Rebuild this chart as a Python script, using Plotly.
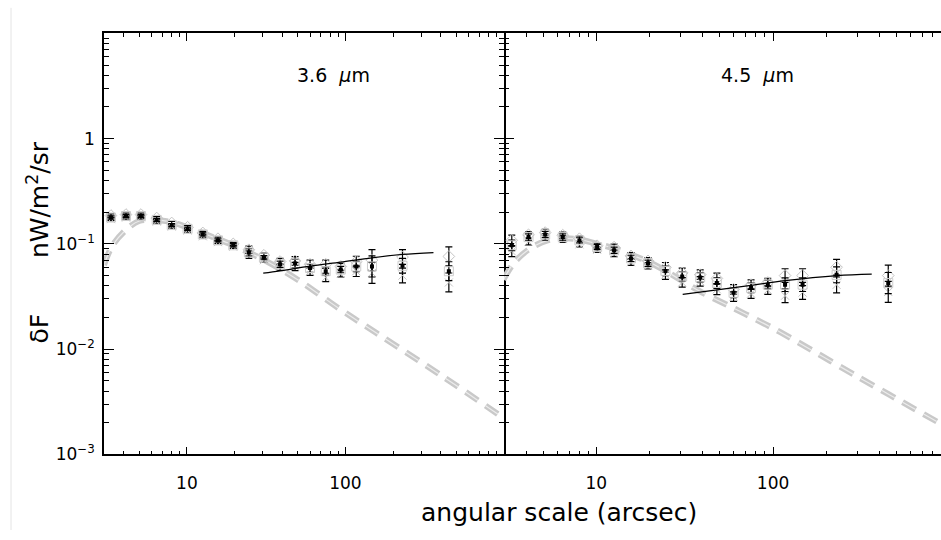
import math
import plotly.graph_objects as go

# ---- data ----
theta = [3.32, 4.13, 5.13, 6.45, 8.02, 10.1, 12.6, 15.7, 19.6, 24.6, 30.6, 38.7, 48.1,
         59.8, 75.1, 93.4, 117, 147, 229, 449]

# 3.6 micron: three overlapping fields
a36 = [0.178, 0.184, 0.184, 0.169, 0.151, 0.139, 0.123, 0.108, 0.097, 0.083, 0.074, 0.064, 0.065,
       0.059, 0.055, 0.057, 0.061, 0.061, 0.062, 0.055]
b36 = [0.186, 0.190, 0.190, 0.176, 0.158, 0.144, 0.127, 0.112, 0.100, 0.088, 0.078, 0.068, 0.069,
       0.064, 0.064, 0.061, 0.068, 0.070, 0.075, 0.076]
c36 = [0.172, 0.178, 0.179, 0.163, 0.146, 0.134, 0.118, 0.104, 0.094, 0.079, 0.070, 0.060, 0.061,
       0.055, 0.048, 0.052, 0.055, 0.053, 0.050, 0.043]
dex36 = [0.015, 0.015, 0.015, 0.015, 0.015, 0.015, 0.015, 0.015, 0.015, 0.035, 0.02, 0.03, 0.04,
         0.04, 0.04, 0.03, 0.05, 0.10, 0.07, 0.09]

# 4.5 micron
a45 = [0.097, 0.116, 0.123, 0.116, 0.108, 0.0933, 0.0869, 0.0728, 0.0654, 0.0554, 0.049, 0.048,
       0.0425, 0.0343, 0.0382, 0.041, 0.041, 0.041, 0.0508, 0.0425]
b45 = [0.108, 0.122, 0.128, 0.121, 0.112, 0.096, 0.093, 0.077, 0.069, 0.060, 0.053, 0.051,
       0.047, 0.037, 0.041, 0.043, 0.050, 0.050, 0.060, 0.050]
c45 = [0.085, 0.105, 0.116, 0.111, 0.099, 0.088, 0.081, 0.067, 0.062, 0.051, 0.043, 0.044,
       0.037, 0.0315, 0.0337, 0.0364, 0.0322, 0.0345, 0.0408, 0.035]
dex45 = [0.05, 0.03, 0.03, 0.03, 0.025, 0.025, 0.03, 0.03, 0.03, 0.045, 0.045, 0.045, 0.05,
         0.045, 0.045, 0.04, 0.065, 0.065, 0.075, 0.10]

# solid fit lines
fit36_x = [30.3, 38.7, 59.8, 93.4, 147, 229, 359]
fit36_y = [0.0527, 0.0555, 0.0615, 0.0672, 0.0738, 0.0794, 0.0828]
fit45_x = [30.8, 48.2, 75.0, 117, 230, 362]
fit45_y = [0.0331, 0.0366, 0.0404, 0.0448, 0.0500, 0.0516]

# grey dashed model curves
mod36_x = [3.0, 3.4, 4.2, 5.0, 6.3, 8.0, 10, 12.6, 15.7, 19.6, 30.3, 50, 92, 156, 400, 1000]
mod36_y = [0.063, 0.097, 0.139, 0.165, 0.169, 0.161, 0.144, 0.127, 0.111, 0.097, 0.071, 0.0457,
           0.0241, 0.0143, 0.00566, 0.0022]
mod45_x = [2.98, 3.4, 4.2, 5.3, 6.6, 8.1, 10.1, 12.8, 15.9, 19.8, 25, 38.4, 59.6, 92, 110, 300, 893, 1000]
mod45_y = [0.0457, 0.0654, 0.090, 0.108, 0.113, 0.110, 0.100, 0.090, 0.0782, 0.0676, 0.0546,
           0.0356, 0.0246, 0.0170, 0.0145, 0.0055, 0.00195, 0.00175]

y_tickvals = [0.001, 0.01, 0.1, 1, 10]
y_ticktext = ["10<sup>\u22123</sup>", "10<sup>\u22122</sup>", "10<sup>\u22121</sup>", "1", ""]
x_tickvals = [10, 100, 1000]
x_ticktext = ["10", "100", ""]

W, H = 941, 540
FONT = "DejaVu Sans, Liberation Sans, sans-serif"

def px(x):
    return x / W

def py(y):
    return 1 - y / H

fig = go.Figure()

def err(vals, dex):
    plus = [v * (10 ** d - 1) for v, d in zip(vals, dex)]
    minus = [v * (1 - 10 ** (-d)) for v, d in zip(vals, dex)]
    return dict(type="data", array=plus, arrayminus=minus, visible=True,
                color="black", thickness=1.2, width=3.5)

def add_panel(xa, ya, a, b, c, dex, mx, my, fx, fy):
    # grey dashed model (double-stripe look)
    fig.add_trace(go.Scatter(x=mx, y=my, mode="lines", xaxis=xa, yaxis=ya,
                             line=dict(color="#c9c9c9", width=6, dash="15px,9px", shape="spline"),
                             hoverinfo="skip", showlegend=False))
    fig.add_trace(go.Scatter(x=mx, y=my, mode="lines", xaxis=xa, yaxis=ya,
                             line=dict(color="#ececec", width=1.2, dash="15px,9px", shape="spline"),
                             hoverinfo="skip", showlegend=False))
    # data sets
    fig.add_trace(go.Scatter(x=theta, y=b, mode="markers", xaxis=xa, yaxis=ya,
                             marker=dict(symbol="diamond-open", size=9, color="#c4c4c4",
                                         line=dict(width=1, color="#c4c4c4")),
                             error_y=err(b, dex), showlegend=False))
    fig.add_trace(go.Scatter(x=theta, y=c, mode="markers", xaxis=xa, yaxis=ya,
                             marker=dict(symbol="x-thin-open", size=8, color="#c4c4c4",
                                         line=dict(width=1, color="#c4c4c4")),
                             error_y=err(c, dex), showlegend=False))
    fig.add_trace(go.Scatter(x=theta, y=a, mode="markers", xaxis=xa, yaxis=ya,
                             marker=dict(symbol="square-open", size=9, color="#cccccc",
                                         line=dict(width=1, color="#cccccc")),
                             error_y=err(a, dex), showlegend=False))
    fig.add_trace(go.Scatter(x=theta, y=a, mode="markers", xaxis=xa, yaxis=ya,
                             marker=dict(symbol="square", size=4, color="black"),
                             showlegend=False))
    # solid fit
    fig.add_trace(go.Scatter(x=fx, y=fy, mode="lines", xaxis=xa, yaxis=ya,
                             line=dict(color="black", width=1.3, shape="spline"),
                             showlegend=False))

add_panel("x", "y", a36, b36, c36, dex36, mod36_x, mod36_y, fit36_x, fit36_y)
add_panel("x2", "y2", a45, b45, c45, dex45, mod45_x, mod45_y, fit45_x, fit45_y)

x_minor = [v * m for v in (1, 10, 100) for m in range(2, 10)]
y_minor = [v * m for v in (0.001, 0.01, 0.1, 1) for m in range(2, 10)]

common_x = dict(type="log", showgrid=False, zeroline=False, showline=True, linecolor="black",
                linewidth=1.5, mirror="ticks", ticks="inside", ticklen=8, tickwidth=1.2,
                tickcolor="black", tickmode="array", tickvals=x_tickvals, ticktext=x_ticktext,
                ticklabelstandoff=12,
                tickfont=dict(family=FONT, size=17, color="black"),
                minor=dict(tickmode="array", tickvals=x_minor, ticks="inside", ticklen=4,
                           tickwidth=1, tickcolor="black", showgrid=False))
common_y = dict(type="log", showgrid=False, zeroline=False, linecolor="black",
                linewidth=1.5, ticks="inside", ticklen=10, tickwidth=1.2, tickcolor="black",
                tickmode="array", tickvals=y_tickvals, ticktext=y_ticktext,
                range=[-3, 1], domain=[py(463), py(34)], ticklabelstandoff=4,
                tickfont=dict(family=FONT, size=17, color="black"),
                minor=dict(tickmode="array", tickvals=y_minor, ticks="inside", ticklen=5,
                           tickwidth=1, tickcolor="black", showgrid=False))

fig.update_layout(
    width=W, height=H, autosize=False,
    margin=dict(l=0, r=0, t=0, b=0),
    paper_bgcolor="white", plot_bgcolor="white",
    xaxis=dict(common_x, domain=[px(104), px(504)], range=[math.log10(3), 3], anchor="y"),
    xaxis2=dict(common_x, domain=[px(504), 1.0], range=[math.log10(3), math.log10(893)], anchor="y2"),
    yaxis=dict(common_y, anchor="x", showline=True, mirror="ticks"),
    yaxis2=dict(common_y, anchor="x2", showline=False, mirror=False, showticklabels=False,
                matches="y"),
    showlegend=False,
)

annotations = [
    dict(text="3.6\u00a0\u00a0<i>\u03bc</i>m", x=px(333), y=py(76), xref="paper", yref="paper",
         xanchor="center", yanchor="middle", showarrow=False,
         font=dict(family=FONT, size=19, color="black")),
    dict(text="4.5\u00a0\u00a0<i>\u03bc</i>m", x=px(757), y=py(76), xref="paper", yref="paper",
         xanchor="center", yanchor="middle", showarrow=False,
         font=dict(family=FONT, size=19, color="black")),
    dict(text="angular scale (arcsec)", x=px(559), y=py(522), xref="paper", yref="paper",
         xanchor="center", yanchor="middle", showarrow=False,
         font=dict(family=FONT, size=25, color="black")),
    dict(text="\u03b4F" + "\u00a0" * 7 + "nW/m<sup>2</sup>/sr", x=px(38), y=py(247),
         xref="paper", yref="paper", xanchor="center", yanchor="middle",
         textangle=-90, showarrow=False,
         font=dict(family=FONT, size=25, color="black")),
]
fig.update_layout(annotations=annotations)

fig.add_shape(type="line", xref="paper", yref="paper", x0=px(11), x1=px(11), y0=0, y1=py(8),
              line=dict(color="#e4e4e4", width=1))

fig.write_html("out.html")
